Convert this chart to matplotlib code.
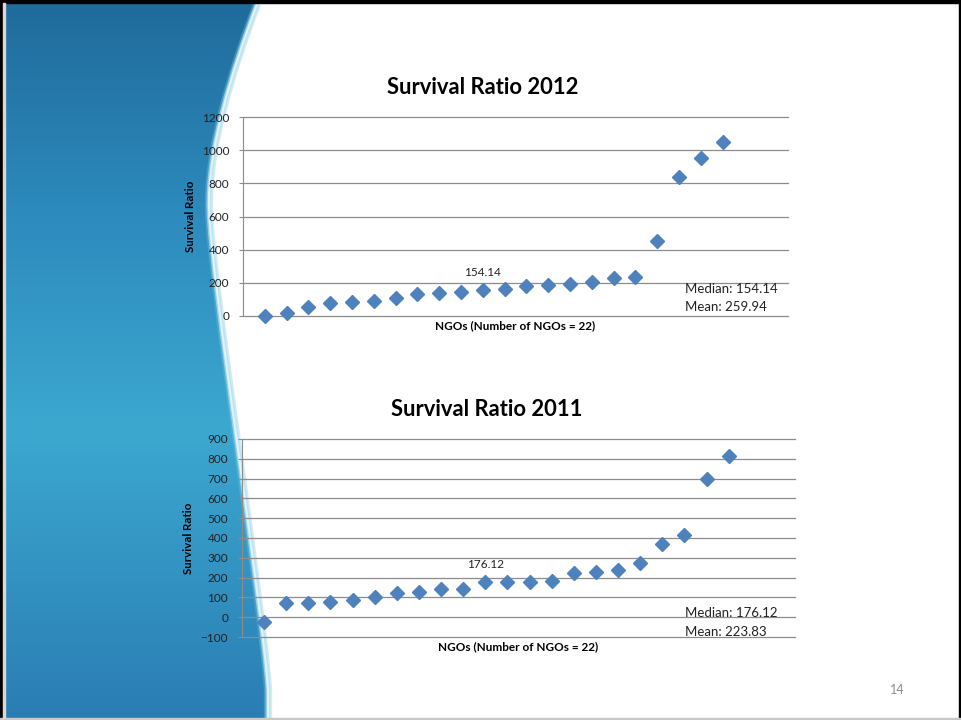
import numpy as np
import matplotlib.pyplot as plt
from matplotlib.path import Path
from matplotlib.patches import PathPatch, Rectangle
from matplotlib.colors import LinearSegmentedColormap

plt.rcParams['font.family'] = ['Lato', 'DejaVu Sans']

# survival ratio per NGO, sorted ascending
ngo_index = np.arange(1, 23)
ratio_2012 = [1, 16, 56, 80, 84, 88, 108, 133, 140, 146, 154.14, 163,
              183, 185, 193, 203, 227, 235, 452, 840, 952, 1050]
ratio_2011 = [-25, 71, 74, 77, 87, 104, 121, 126, 141, 143, 176.12, 177,
              178, 185, 224, 226, 239, 274, 370, 416, 697, 816]
median_2012, mean_2012 = 154.14, 259.94
median_2011, mean_2011 = 176.12, 223.83

marker_color = '#4F81BD'
grid_color = '#8c8c8c'

fig = plt.figure(figsize=(9.62, 7.2), dpi=100)

# slide background: blue wave on the left, frame around the slide
bg = fig.add_axes([0, 0, 1, 1], zorder=0)
bg.set_xlim(0, 962)
bg.set_ylim(720, 0)
bg.axis('off')

edge = [(257, 4), (232, 70), (207, 150), (209, 210),
        (211, 280), (262, 600), (268, 690), (268, 718)]
edge_codes = [Path.MOVETO] + [Path.CURVE4] * 6 + [Path.LINETO]
wave_verts = [(6, 4)] + edge + [(6, 718), (6, 4)]
wave_codes = [Path.MOVETO, Path.LINETO] + edge_codes[1:] + [Path.LINETO, Path.CLOSEPOLY]
wave = PathPatch(Path(wave_verts, wave_codes), facecolor='none', edgecolor='none')
bg.add_patch(wave)

blues = LinearSegmentedColormap.from_list(
    'slide', [(0.0, '#1f6b9b'), (0.3, '#2d8bbd'), (0.6, '#3ca8d0'), (1.0, '#2a7db3')])
grad = np.linspace(0, 1, 256).reshape(-1, 1)
img = bg.imshow(grad, extent=(0, 962, 720, 0), cmap=blues, aspect='auto')
img.set_clip_path(wave)

# soft pale rim along the wave edge
edge_path = Path(edge, edge_codes)
for lw, col, a in [(6, '#7cc4e0', 0.35), (3.5, '#b4e0f0', 0.7), (1.5, '#e8f6fb', 0.9)]:
    bg.add_patch(PathPatch(edge_path, facecolor='none', edgecolor=col, lw=lw, alpha=a))

bg.add_patch(Rectangle((0, 0), 3, 720, color='black'))
bg.add_patch(Rectangle((0, 0), 962, 3, color='black'))
bg.add_patch(Rectangle((959, 0), 3, 720, color='black'))
bg.add_patch(Rectangle((0, 718), 962, 2, color='#c8c8c8'))
bg.add_patch(Rectangle((3, 3), 2, 715, color='#d8d8d8'))


def survival_chart(rect, values, ylim, step, label_value, title, title_xy,
                   ylabel_xy, stats_y, median, mean):
    ax = fig.add_axes([rect[0] / 962, 1 - rect[3] / 720,
                       (rect[2] - rect[0]) / 962, (rect[3] - rect[1]) / 720], zorder=2)
    ax.set_facecolor('none')
    ax.plot(ngo_index, values, linestyle='none', marker='D', ms=6.8,
            color=marker_color, clip_on=False, zorder=3)
    ax.set_xlim(0, 25)
    ax.set_ylim(*ylim)
    ax.set_yticks(np.arange(ylim[0], ylim[1] + 1, step))
    ax.set_xticks([])
    ax.grid(axis='y', color=grid_color, lw=0.9)
    for line in ax.get_ygridlines():
        line.set_clip_on(False)
    ax.set_axisbelow(True)
    for side in ['top', 'right', 'bottom']:
        ax.spines[side].set_visible(False)
    ax.spines['left'].set_color(grid_color)
    ax.tick_params(axis='y', length=3, color=grid_color, pad=7,
                   labelsize=8.5, labelcolor='#222222')
    ax.set_xlabel('NGOs (Number of NGOs = 22)', fontsize=8.5,
                  fontweight='bold', labelpad=3)

    idx = values.index(label_value)
    ax.annotate(f'{label_value:.2f}', (ngo_index[idx], label_value),
                xytext=(0, 13), textcoords='offset points', ha='center',
                va='center', fontsize=8.5, color='#222222')

    stats_x = (685 - rect[0]) / (rect[2] - rect[0])
    ax.text(stats_x, stats_y[0], f'Median: {median:.2f}', transform=ax.transAxes,
            ha='left', va='center', fontsize=9.5, color='#222222')
    ax.text(stats_x, stats_y[1], f'Mean: {mean:.2f}', transform=ax.transAxes,
            ha='left', va='center', fontsize=9.5, color='#222222')

    fig.text(title_xy[0] / 962, 1 - title_xy[1] / 720, title, ha='center',
             va='center', fontsize=15.8, fontweight='bold')
    fig.text(ylabel_xy[0] / 962, 1 - ylabel_xy[1] / 720, 'Survival Ratio',
             rotation=90, ha='center', va='center', fontsize=8.3, fontweight='bold')
    return ax


# rect given as pixel box: left, top, right, bottom
survival_chart((243, 117, 788, 316), ratio_2012, (0, 1200), 200, 154.14,
               'Survival Ratio 2012', (483, 87), (190, 216), (0.136, 0.045),
               median_2012, mean_2012)
survival_chart((242, 439, 795, 637), ratio_2011, (-100, 900), 100, 176.12,
               'Survival Ratio 2011', (487, 409), (189, 538), (0.12, 0.025),
               median_2011, mean_2011)

fig.text(897 / 962, 1 - 690 / 720, '14', ha='center', va='center',
         fontsize=9, color='#8c8c8c')

fig.savefig('out.png', dpi=100)
